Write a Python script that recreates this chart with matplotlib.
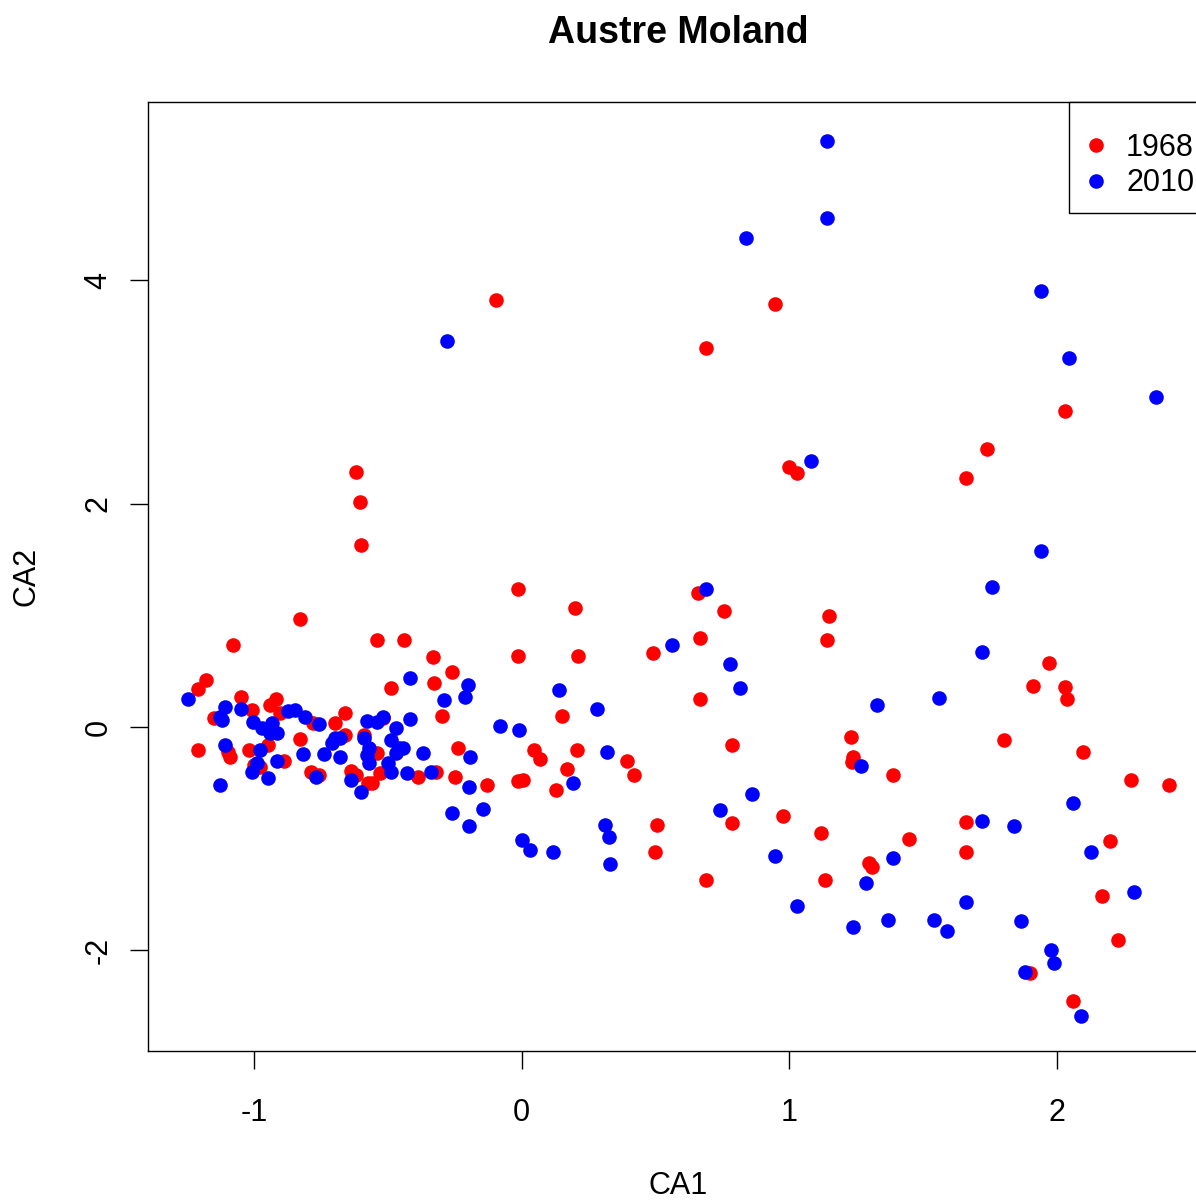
import numpy as np
import matplotlib.pyplot as plt
from matplotlib.patches import Rectangle

plt.rcParams['font.family'] = ['Liberation Sans', 'DejaVu Sans']

# CA site scores, 1968 survey
ca1_1968 = [-0.097, 0.69, 0.946, -0.62, -0.606, -0.60, 1.00, 1.03, 2.03, 1.74, 1.66,
            -1.08, -0.83, -0.015, 0.20, 0.21, -0.015, 0.66, 0.755, 0.665, 1.15, 1.14,
            0.49, 0.665, 1.97, 1.91, 2.03, 2.04, 2.10, 1.805, 1.23, 1.24, 1.235, 1.39,
            1.447, 1.12, 0.976, 0.785, 0.785, 0.69, 0.505, 0.497, 0.393, 0.42, 0.206,
            0.17, 0.127, 0.15, 0.045, 0.067, -0.015, 0.004, -0.13, -0.24, -0.25, -0.30,
            -0.26, -0.33, -0.333, -0.44, -0.54, -0.49, -0.32, -0.39, 2.28, 2.42, 2.20,
            2.17, 2.23, 2.06, 1.90, 1.66, 1.66, 1.30, 1.31, 1.135,
            -1.18, -1.21, -1.05, -0.92, -0.94, -1.01, -1.15, -0.66, -0.70, -0.78, -0.905,
            -0.83, -0.66, -1.21, -1.02, -0.95, -1.10, -1.09, -0.89, -1.00, -0.98, -0.79,
            -0.76, -0.64, -0.52, -0.59, -0.54, -0.62, -0.53, -0.575, -0.56]
ca2_1968 = [3.82, 3.39, 3.79, 2.28, 2.01, 1.63, 2.33, 2.27, 2.83, 2.49, 2.23,
            0.73, 0.97, 1.24, 1.07, 0.64, 0.64, 1.20, 1.04, 0.80, 0.99, 0.78,
            0.66, 0.25, 0.57, 0.37, 0.36, 0.25, -0.22, -0.12, -0.09, -0.27, -0.31, -0.43,
            -1.00, -0.95, -0.80, -0.16, -0.86, -1.37, -0.88, -1.12, -0.30, -0.43, -0.21,
            -0.38, -0.56, 0.10, -0.21, -0.29, -0.48, -0.47, -0.52, -0.19, -0.45, 0.10,
            0.49, 0.39, 0.63, 0.78, 0.78, 0.35, -0.40, -0.45, -0.47, -0.52, -1.02,
            -1.51, -1.91, -2.45, -2.20, -1.12, -0.85, -1.22, -1.25, -1.37,
            0.42, 0.34, 0.27, 0.25, 0.20, 0.15, 0.08, 0.13, 0.04, 0.04, 0.125,
            -0.11, -0.07, -0.21, -0.21, -0.16, -0.22, -0.27, -0.30, -0.34, -0.36, -0.40,
            -0.43, -0.39, 0.08, -0.07, -0.23, -0.43, -0.41, -0.50, -0.50]

# CA site scores, 2010 survey
ca1_2010 = [1.14, 1.14, 0.84, -0.28, 1.94, 2.045, 2.37, 1.08, 1.94, 1.76, 0.69, 0.56,
            1.72, 0.78, 0.815, 1.56, 1.33, 1.27, 0.28, 0.14, -0.08, -0.01, 0.32, 0.19,
            0.86, 0.74, 0.31, 0.325, 0.33, 0.0, 0.03, 0.116, 0.946, 1.39, 1.286, 1.03,
            1.24, 1.37, 1.54, 1.59, 1.66, 1.72, 1.84, 2.06, 2.13, 2.29, 1.866, 1.98,
            1.99, 1.88, 2.09, -0.26, -0.196, -0.146, -0.196, -0.20, -0.213, -0.29,
            -0.42, -0.42, -0.195, -0.37, -0.43, -0.34,
            -0.58, -0.54, -0.52, -0.47, -0.59, -0.57, -0.49, -0.46, -0.445, -0.47,
            -0.58, -0.57, -0.50, -0.49, -0.68, -0.68, -0.64, -0.60, -1.25, -1.11,
            -1.05, -1.13, -1.12, -1.005, -0.97, -0.935, -0.94, -0.915, -0.875, -0.85,
            -0.81, -0.76, -0.70, -0.71, -1.11, -0.98, -0.99, -1.01, -0.95, -0.915,
            -0.82, -0.74, -0.77, -1.13]
ca2_2010 = [5.25, 4.56, 4.38, 3.46, 3.90, 3.30, 2.95, 2.38, 1.58, 1.25, 1.24, 0.73,
            0.67, 0.56, 0.35, 0.26, 0.20, -0.35, 0.16, 0.33, 0.01, -0.03, -0.22, -0.50,
            -0.60, -0.74, -0.88, -0.98, -1.23, -1.01, -1.10, -1.12, -1.15, -1.17, -1.40, -1.60,
            -1.79, -1.73, -1.73, -1.83, -1.57, -0.84, -0.89, -0.68, -1.12, -1.48, -1.74, -2.00,
            -2.11, -2.19, -2.59, -0.77, -0.89, -0.73, -0.54, 0.38, 0.27, 0.24,
            0.44, 0.07, -0.27, -0.23, -0.41, -0.40,
            0.05, 0.045, 0.09, -0.01, -0.10, -0.19, -0.12, -0.19, -0.19, -0.23,
            -0.25, -0.32, -0.32, -0.40, -0.27, -0.10, -0.47, -0.58, 0.25, 0.18,
            0.16, 0.09, 0.065, 0.045, -0.01, 0.04, -0.05, -0.05, 0.14, 0.15,
            0.09, 0.03, -0.10, -0.14, -0.16, -0.21, -0.32, -0.40, -0.46, -0.30,
            -0.24, -0.24, -0.45, -0.52]

years = ['1968', '2010']
colours = ['#ff0000', '#0000ff']

fig = plt.figure(figsize=(11.96, 12), dpi=100)
# plot region runs a little past the right edge of the image
ax = fig.add_axes([148/1196, 149/1200, 1061/1196, 949/1200])

ax.plot(ca1_1968, ca2_1968, 'o', color=colours[0], markersize=10.5, markeredgewidth=0,
        label=years[0], clip_on=False)
ax.plot(ca1_2010, ca2_2010, 'o', color=colours[1], markersize=10.5, markeredgewidth=0,
        label=years[1], clip_on=False)

ax.set_xlim(-1.398, 2.57)
ax.set_ylim(-2.90, 5.595)
ax.set_xticks([-1, 0, 1, 2])
ax.set_yticks([-2, 0, 2, 4])
ax.set_yticklabels(['-2', '0', '2', '4'], rotation=90, va='center')
ax.set_xticklabels(['-1', '0', '1', '2'])
ax.tick_params(axis='x', length=13, width=1.0, labelsize=22, pad=21)
ax.tick_params(axis='y', length=13, width=1.0, labelsize=22, pad=12)
for s in ax.spines.values():
    s.set_linewidth(1.0)

fig.text(678/1196, 1 - 33/1200, 'Austre Moland', ha='center', va='center',
         fontsize=27, fontweight='bold')
fig.text(678/1196, 1 - 1186/1200, 'CA1', ha='center', va='center', fontsize=22)
fig.text(27/1196, 1 - 576/1200, 'CA2', ha='center', va='center', fontsize=22,
         rotation=90)

# legend box drawn separately so it can be taller than the entries need
box = Rectangle(((1069 - 148)/1061, (1051 - 213)/949), 0.2, 111/949,
                transform=ax.transAxes, facecolor='white', edgecolor='black',
                linewidth=1.0, zorder=5, clip_on=False)
ax.add_patch(box)
leg = ax.legend(loc='upper right', bbox_to_anchor=(1 + 2/1061, 1 - 14/949),
                borderaxespad=0, fontsize=22, frameon=False,
                handlelength=0.8, handletextpad=0.6, labelspacing=0.18,
                borderpad=0.55)
leg.set_zorder(6)

plt.savefig('out.png', dpi=100)
